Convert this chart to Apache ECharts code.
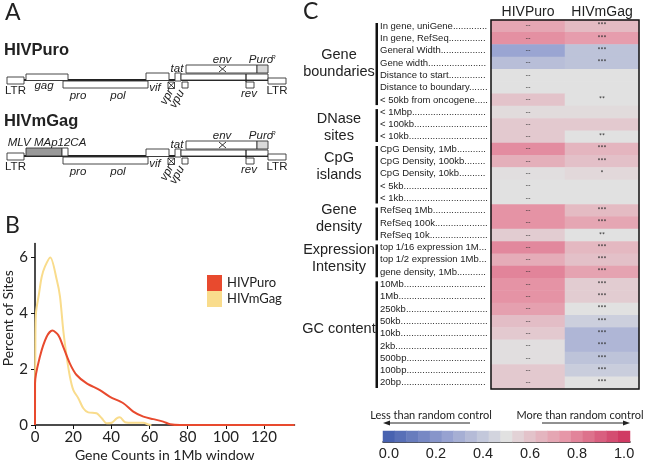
<!DOCTYPE html>
<html><head><meta charset="utf-8">
<script src="https://cdn.jsdelivr.net/npm/echarts@6/dist/echarts.min.js"></script>
<style>html,body{margin:0;padding:0;background:#fff}#c{width:645px;height:465px}</style>
</head><body><div id="c"></div>
<script>
// ---------- Panel B data ----------
const seriesNames = ['HIVPuro', 'HIVmGag'];
const densityPuro = [[0,0],[0,1.49],[2.6,2.45],[6.1,3.16],[9.1,3.38],[12.2,3.22],[14.8,2.8],[18.3,2.2],[21.8,1.79],[27.1,1.49],[34,1.25],[39.3,1.01],[46.3,0.78],[51.5,0.48],[56.8,0.3],[62,0.21],[67.2,0.12],[70.8,0.03],[76,0],[136,0]];
const densityMGag = [[0,0],[0.2,2.9],[0.5,4.0],[2.1,4.7],[3.5,5.3],[5.2,5.67],[8,6.0],[11.4,5.2],[13.1,4.6],[14.8,3.4],[16.6,2.45],[18.3,1.73],[20.1,1.25],[22.7,0.96],[25.3,0.6],[27.9,0.45],[32.3,0.42],[35,0.24],[37.6,0.06],[40.2,0.08],[42.8,0.24],[44.5,0.28],[47.2,0.1],[51.5,0.08],[56.8,0.08],[59.4,0.02],[61,0]];
const xTicksB = [0,20,40,60,80,100,120];
const yTicksB = [0,2,4,6];

// ---------- Panel C data ----------
const columns = ['HIVPuro', 'HIVmGag'];
const rowLabels = ['In gene, uniGene','In gene, RefSeq','General Width','Gene width','Distance to start','Distance to boundary','< 50kb from oncogene','< 1Mbp','< 100kb','< 10kb','CpG Density, 1Mb','CpG Density, 100kb','CpG Density, 10kb','< 5kb','< 1kb','RefSeq 1Mb','RefSeq 100k','RefSeq 10k','top 1/16 expression 1Mb','top 1/2 expression 1Mb','gene density, 1Mb','10Mb','1Mb','250kb','50kb','10kb','2kb','500bp','100bp','20bp'];
const puroValues = [0.70,0.77,0.26,0.36,0.50,0.50,0.60,0.52,0.58,0.58,0.78,0.67,0.51,0.50,0.50,0.76,0.76,0.57,0.79,0.68,0.80,0.76,0.76,0.72,0.62,0.58,0.51,0.51,0.58,0.58];
const mgagValues = [0.63,0.73,0.38,0.38,0.50,0.50,0.50,0.52,0.58,0.50,0.65,0.61,0.53,0.50,0.50,0.63,0.70,0.50,0.64,0.61,0.71,0.57,0.57,0.50,0.43,0.33,0.33,0.38,0.42,0.50];
const puroSig = ['--','--','--','--','--','--','--','--','--','--','--','--','--','--','--','--','--','--','--','--','--','--','--','--','--','--','--','--','--','--'];
const mgagSig = ['***','***','***','***','','','**','','','**','***','***','*','','','***','***','**','***','***','***','***','***','***','***','***','***','***','***','***'];
const groupNames = ['Gene\nboundaries','DNase\nsites','CpG\nislands','Gene\ndensity','Expression\nIntensity','GC content'];
const groupSizes = [7,3,5,3,3,9];
const colorLevels = [0,0.05,0.1,0.15,0.2,0.25,0.3,0.35,0.4,0.45,0.5,0.55,0.6,0.65,0.7,0.75,0.8,0.85,0.9,0.95,1.0];

// ---------- layout ----------
const HM = {left:491, top:20, width:148, height:369};
const rowH = HM.height / rowLabels.length;
const CB = {left:383, top:431, width:247, height:11};

const heatData = [];
rowLabels.forEach((r, i) => { heatData.push([0, i, puroValues[i]]); heatData.push([1, i, mgagValues[i]]); });
const cbData = colorLevels.map((v, i) => [i, 0, v]);

const graphics = [];
const T = (text, x, y, o) => { o = o || {}; graphics.push({type:'text', x, y, rotation:o.rot||0, z:o.z||20, style:{text, fill:o.fill||'#222', font:o.font||'11.5px "Liberation Sans"', textAlign:o.align||'center', textVerticalAlign:o.va||'middle', lineHeight:o.lh}}); };
const R = (x, y, w, h, o) => { o = o || {}; graphics.push({type:'rect', z:o.z||10, shape:{x, y, width:w, height:h}, style:{fill:o.fill||'#fff', stroke:o.stroke===undefined?'#333':o.stroke, lineWidth:o.lw||0.9}}); };
const L = (x1, y1, x2, y2, o) => { o = o || {}; graphics.push({type:'line', z:o.z||11, shape:{x1, y1, x2, y2}, style:{stroke:o.stroke||'#222', lineWidth:o.lw||0.9}}); };
const P = (pts, o) => { o = o || {}; graphics.push({type:'polygon', z:o.z||11, shape:{points:pts}, style:{fill:o.fill||'#222'}}); };

// Panel letters
T('A', 5, 13, {font:'23px Lato', align:'left'});
T('B', 5, 226, {font:'23px Lato', align:'left'});
T('C', 303, 12, {font:'23px Lato', align:'left'});

// Panel A diagrams
function diagram(dy, title, mgag) {
  T(title, 4, (mgag ? 121 : 50), {font:'bold 16.5px "Liberation Sans"', align:'left'});
  L(24, 80+dy, 268, 80+dy, {lw:2, z:9});
  const it = 'italic 11.5px "Liberation Sans"';
  R(7, 77+dy, 17, 7);
  if (mgag) {
    R(26, 72+dy, 36, 8, {fill:'#999'});
    R(62, 72+dy, 6, 8);
    T('MLV MAp12CA', 47, 67+dy, {font:it});
  } else {
    R(26, 74+dy, 42, 6.5);
    T('gag', 44, 86+dy, {font:it});
  }
  R(63, 81+dy, 85, 7);
  R(146, 73+dy, 23, 7.5);
  R(168, 82+dy, 6.5, 6.5);
  L(168, 82+dy, 174.5, 88.5+dy); L(174.5, 82+dy, 168, 88.5+dy);
  R(175, 73+dy, 6, 8);
  R(182, 82+dy, 6, 6);
  R(181, 74+dy, 87, 6);
  R(186, 65+dy, 71, 8);
  R(257, 65+dy, 11, 8, {fill:'#d9d9d9'});
  L(219, 66+dy, 226, 72+dy); L(226, 66+dy, 219, 72+dy);
  R(246, 82+dy, 8, 6);
  L(246, 74+dy, 246, 82+dy, {lw:1.3});
  R(268, 78+dy, 18, 6);
  T('LTR', 15.5, 91+dy);
  T('LTR', 277, 91+dy);
  T('pro', 78, 96+dy, {font:it});
  T('pol', 118, 96+dy, {font:it});
  T('vif', 155, 88+dy, {font:it});
  T('vpr', 167, 97+dy, {font:it, rot:Math.PI/3});
  T('vpu', 177, 99+dy, {font:it, rot:Math.PI/3});
  T('tat', 177, 69+dy, {font:it});
  T('env', 222, 60+dy, {font:it});
  T('Puro', 261, 60+dy, {font:it});
  T('R', 273.5, 57+dy, {font:'italic 6px "Liberation Sans"'});
  T('rev', 249, 94+dy, {font:it});
}
diagram(0, 'HIVPuro', false);
diagram(76, 'HIVmGag', true);

// Panel C group labels and bars
const groupOffsets = [0.5, 3, -7, -4, -1.5, -4.5];
let r0 = 0;
groupNames.forEach((g, k) => {
  const top = HM.top + r0 * rowH, bot = HM.top + (r0 + groupSizes[k]) * rowH;
  R(375.5, top + 3, 2.5, bot - top - 4, {fill:'#111', stroke:null, lw:0});
  T(g, 339, (top + bot) / 2 + groupOffsets[k], {font:'14.5px "Liberation Sans"', lh:17});
  r0 += groupSizes[k];
});
// heatmap frame
graphics.push({type:'rect', z:30, shape:{x:HM.left, y:HM.top, width:HM.width, height:HM.height}, style:{fill:null, stroke:'#111', lineWidth:1.5}});
// colour bar annotations
T('Less than random control', 431, 415, {font:'11px Lato'});
T('More than random control', 580, 415, {font:'11px Lato'});
L(389, 423, 470, 423, {lw:1});
P([[383,423],[390,420.5],[390,425.5]]);
L(542, 423, 624, 423, {lw:1});
P([[630,423],[623,420.5],[623,425.5]]);

const chart = echarts.init(document.getElementById('c'));
chart.setOption({
  animation: false,
  textStyle: {fontFamily: 'Lato'},
  grid: [
    {left:35, top:243.5, width:259.5, height:181.5},
    {left:HM.left, top:HM.top, width:HM.width, height:HM.height},
    {left:CB.left, top:CB.top, width:CB.width, height:CB.height}
  ],
  legend: {
    data: seriesNames, orient:'vertical', left:202, top:270, icon:'rect',
    itemWidth:15, itemHeight:16, itemGap:0,
    textStyle:{fontFamily:'Lato', fontSize:13, color:'#222'}
  },
  visualMap: {
    type:'continuous', show:false, min:0, max:1, dimension:2, seriesIndex:[2,3],
    inRange:{color:['#4862b0','#97a2d1','#e1e1e1','#e697a8','#d03a63']}
  },
  xAxis: [
    {gridIndex:0, type:'value', min:0, max:136,
     name:'Gene Counts in 1Mb window', nameLocation:'middle', nameGap:23,
     nameTextStyle:{fontFamily:'Lato', fontSize:14, color:'#222'},
     axisLine:{lineStyle:{color:'#111', width:1.5}},
     axisTick:{customValues:xTicksB, length:4, lineStyle:{color:'#111'}},
     axisLabel:{customValues:xTicksB, fontFamily:'Lato', fontSize:15, color:'#222', margin:5},
     splitLine:{show:false}},
    {gridIndex:1, type:'category', data:columns, position:'top',
     axisLine:{show:false}, axisTick:{show:false},
     axisLabel:{interval:0, fontFamily:'Liberation Sans', fontSize:14, color:'#222', margin:1}},
    {gridIndex:2, type:'category', data:colorLevels.map(String),
     axisLine:{lineStyle:{color:'#111', width:1.5}},
     axisTick:{alignWithLabel:true, interval:3, length:5, lineStyle:{color:'#111'}},
     axisLabel:{interval:3, formatter:v => Number(v).toFixed(1), fontFamily:'Liberation Sans', fontSize:14.5, color:'#222', margin:4}}
  ],
  yAxis: [
    {gridIndex:0, type:'value', min:0, max:6.5,
     name:'Percent of Sites', nameLocation:'middle', nameGap:20,
     nameTextStyle:{fontFamily:'Lato', fontSize:14, color:'#222', padding:[0,0,0,32]},
     axisLine:{show:true, lineStyle:{color:'#111', width:1.5}},
     axisTick:{show:true, customValues:yTicksB, length:4, lineStyle:{color:'#111'}},
     axisLabel:{customValues:yTicksB, fontFamily:'Lato', fontSize:15, color:'#222', margin:7},
     splitLine:{show:false}},
    {gridIndex:1, type:'category', data:rowLabels, inverse:true,
     axisLine:{show:false}, axisTick:{show:false},
     axisLabel:{interval:0, hideOverlap:false, align:'left', margin:111, fontFamily:'Liberation Sans', fontSize:9.5, color:'#222',
       width:109, overflow:'truncate', padding:[5,0,0,0],
       formatter: v => v + '.'.repeat(80)}},
    {gridIndex:2, type:'category', data:[''], show:false}
  ],
  series: [
    {name:'HIVmGag', type:'line', xAxisIndex:0, yAxisIndex:0, data:densityMGag, smooth:0.3, showSymbol:false,
     color:'#f9dc8c', lineStyle:{width:2, color:'#f9dc8c'}, z:2},
    {name:'HIVPuro', type:'line', xAxisIndex:0, yAxisIndex:0, data:densityPuro, smooth:0.3, showSymbol:false,
     color:'#e84a2e', lineStyle:{width:2, color:'#e84a2e'}, z:3},
    {type:'heatmap', xAxisIndex:1, yAxisIndex:1, data:heatData,
     label:{show:true, fontSize:7, color:'#333', formatter:p => p.data[0] === 0 ? puroSig[p.data[1]] : mgagSig[p.data[1]]},
     emphasis:{disabled:true}},
    {type:'heatmap', xAxisIndex:2, yAxisIndex:2, data:cbData, emphasis:{disabled:true}}
  ],
  graphic: graphics
});
</script></body></html>
